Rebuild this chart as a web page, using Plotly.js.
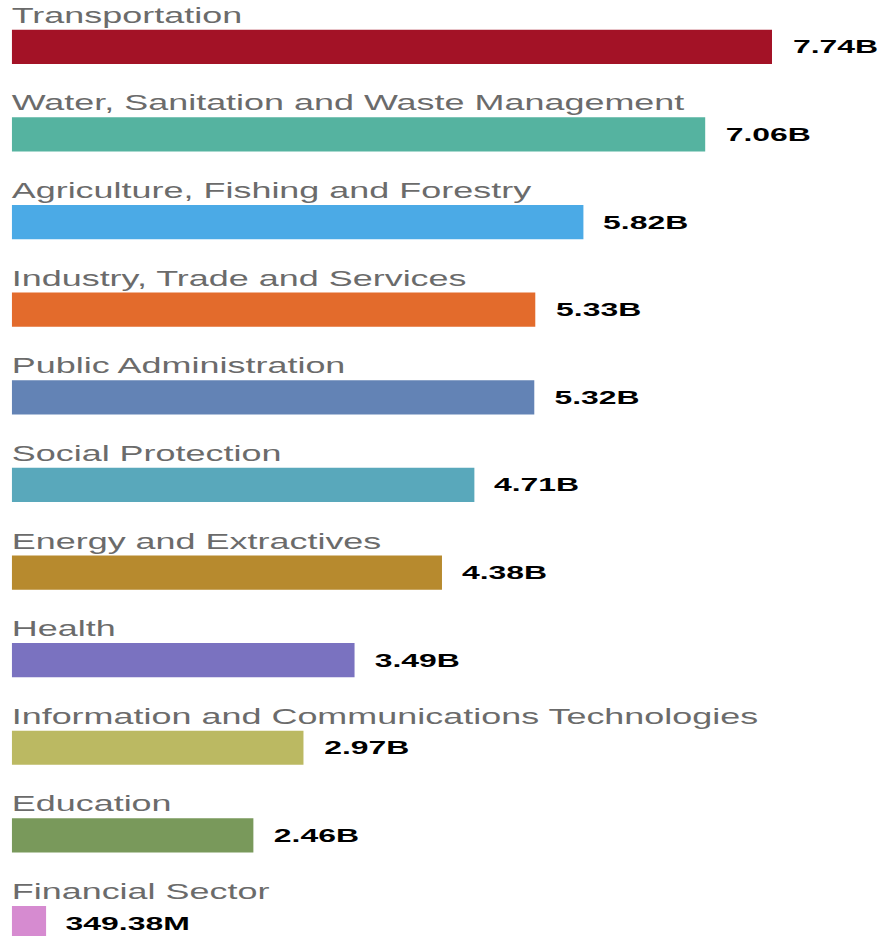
<!DOCTYPE html>
<html>
<head>
<meta charset="utf-8">
<script src="https://cdn.plot.ly/plotly-3.0.1.min.js"></script>
<style>
html,body{margin:0;padding:0;background:#fff;overflow:hidden;}
#wrap{width:882px;height:936px;overflow:hidden;}
#chart{width:525px;height:936px;transform:scaleX(1.68);transform-origin:0 0;}
</style>
</head>
<body>
<div id="wrap"><div id="chart"></div></div>
<script>
const categories = [
  "Transportation",
  "Water, Sanitation and Waste Management",
  "Agriculture, Fishing and Forestry",
  "Industry, Trade and Services",
  "Public Administration",
  "Social Protection",
  "Energy and Extractives",
  "Health",
  "Information and Communications Technologies",
  "Education",
  "Financial Sector"
];
const values = [7.74, 7.06, 5.82, 5.33, 5.32, 4.71, 4.38, 3.49, 2.97, 2.46, 0.34938];
const valueLabels = ["7.74B", "7.06B", "5.82B", "5.33B", "5.32B", "4.71B", "4.38B", "3.49B", "2.97B", "2.46B", "349.38M"];
const colors = ["#A31226", "#55B3A0", "#4BAAE6", "#E36B2C", "#6383B5", "#59A8BB", "#B78A2E", "#7A72C0", "#BBB962", "#79995B", "#D68BD0"];

const trace = {
  type: "bar",
  orientation: "h",
  x: values,
  y: categories,
  marker: {color: colors},
  width: 0.39,
  hoverinfo: "skip"
};

const annotations = [];
categories.forEach((c, i) => {
  annotations.push({
    x: 0, y: c, xref: "x", yref: "y",
    text: c, showarrow: false,
    xanchor: "left", yanchor: "middle",
    yshift: 31, xshift: -2.5,
    font: {family: "Liberation Sans, Arial, sans-serif", size: 21.4, color: "#6b6b6b"}
  });
  annotations.push({
    x: values[i], y: c, xref: "x", yref: "y",
    text: "<b>" + valueLabels[i] + "</b>", showarrow: false,
    xanchor: "left", yanchor: "middle",
    xshift: 10, yshift: 0,
    font: {family: "Liberation Sans, Arial, sans-serif", size: 19, color: "#000000"}
  });
});

const layout = {
  width: 525, height: 936,
  margin: {l: 7.4, r: 0, t: 3, b: 0, pad: 0},
  paper_bgcolor: "#ffffff",
  plot_bgcolor: "#ffffff",
  showlegend: false,
  xaxis: {range: [0, 8.86], visible: false, fixedrange: true},
  yaxis: {
    type: "category",
    categoryorder: "array",
    categoryarray: categories,
    range: [10.148, -0.5],
    visible: false, fixedrange: true
  },
  annotations: annotations
};

Plotly.newPlot("chart", [trace], layout, {staticPlot: true, displayModeBar: false});
</script>
</body>
</html>
